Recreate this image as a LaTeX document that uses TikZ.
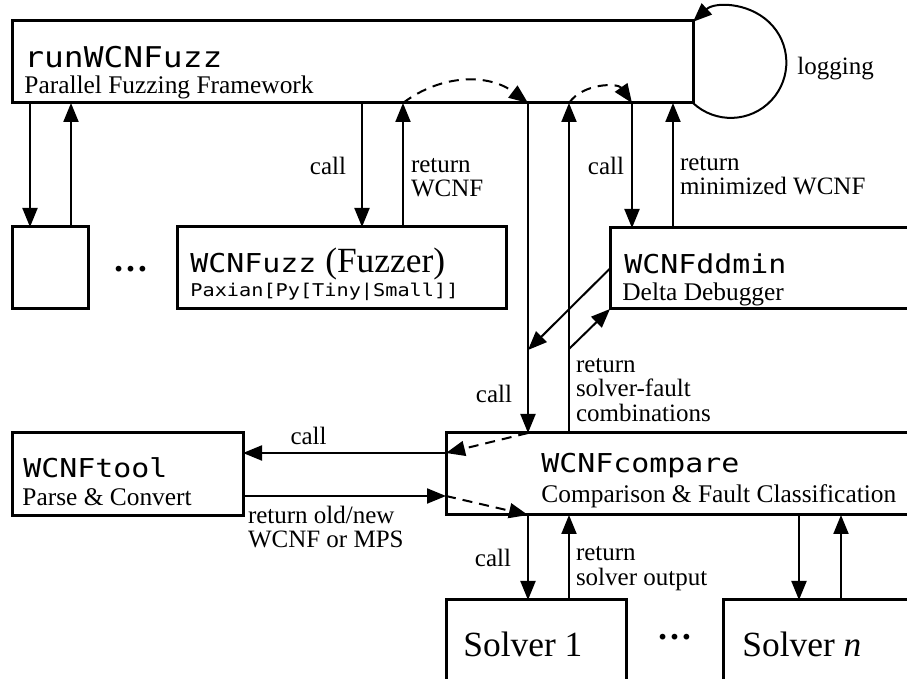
\documentclass[tikz,border=0pt]{standalone}
\usepackage{fontspec}
\setmainfont{Liberation Serif}
\newfontfamily\codefont[FakeStretch=1.15]{DejaVu Sans Mono}
\usetikzlibrary{arrows.meta,calc,positioning}

\tikzset{
  box/.style={draw, line width=1.5pt, inner sep=0pt, outer sep=0pt, anchor=north west},
  prog/.style={font=\codefont\fontsize{13}{15}\selectfont, inner sep=0pt, anchor=base west},
  desc/.style={font=\fontsize{12.7}{15}\selectfont, inner sep=0pt, anchor=base west},
  big/.style={font=\fontsize{17.7}{20}\selectfont, inner sep=0pt},
  lbl/.style={font=\fontsize{12.5}{12.2}\selectfont, inner sep=0pt, align=left},
  flow/.style={->, line width=1pt},
  handover/.style={flow, dash pattern=on 5pt off 3.5pt},
}

\begin{document}
\begin{tikzpicture}[x=0.5pt, y=-0.5pt, >={Triangle[length=9.5pt,width=7.5pt]}]
  \useasboundingbox (0,0) rectangle (907,679);
  \clip (0,0) rectangle (907,679);

  % components
  \node[box, minimum width=340.5pt, minimum height=41pt] (run) at (12,21) {};
  \node[box, minimum width=38pt, minimum height=41pt] (mini) at (12,227) {};
  \node[box, minimum width=164.5pt, minimum height=41pt] (fuzz) at (177,227) {};
  \node[box, minimum width=200pt, minimum height=40.5pt] (ddmin) at (610,228) {};
  \node[box, minimum width=115.5pt, minimum height=41.5pt] (tool) at (12,433) {};
  \node[box, minimum width=250pt, minimum height=41pt] (cmp) at (446,433) {};
  \node[box, minimum width=90pt, minimum height=60pt] (solver1) at (446,600) {};
  \node[box, minimum width=150pt, minimum height=60pt] (solvern) at (723,600) {};

  % names and descriptions
  \node[prog, font=\codefont\fontsize{14.3}{17}\selectfont] (run-name) at ([shift={(12,47)}]run.north west) {runWCNFuzz};
  \node[desc] (run-sub) at ([shift={(12,73)}]run.north west) {Parallel Fuzzing Framework};
  \node[big, anchor=base west] (fuzz-name) at ([shift={(13,46)}]fuzz.north west) {{\codefont\fontsize{13}{15}\selectfont WCNFuzz} (Fuzzer)};
  \node[prog, font=\codefont\fontsize{8.8}{10}\selectfont] (fuzz-sub) at ([shift={(13,70)}]fuzz.north west) {Paxian[Py[Tiny|Small]]};
  \node[prog] (dd-name) at ([shift={(14,46)}]ddmin.north west) {WCNFddmin};
  \node[desc] (dd-sub) at ([shift={(12,73)}]ddmin.north west) {Delta Debugger};
  \node[prog] (tool-name) at ([shift={(11,45)}]tool.north west) {WCNFtool};
  \node[desc] (tool-sub) at ([shift={(10,73)}]tool.north west) {Parse \& Convert};
  \node[prog] (cmp-name) at ([shift={(95,40)}]cmp.north west) {WCNFcompare};
  \node[desc] (cmp-sub) at ([shift={(95,70)}]cmp.north west) {Comparison \& Fault Classification};
  \node[big, anchor=base west] (s1-name) at ([shift={(17,57)}]solver1.north west) {Solver 1};
  \node[big, anchor=base west] (sn-name) at ([shift={(19,57)}]solvern.north west) {Solver \textit{n}};
  \node[big, anchor=base, font=\bfseries\fontsize{17.7}{20}\selectfont] (dots-fuzz) at ($(mini.east)!.5!(fuzz.west)+(-2,4)$) {\dots};
  \node[big, anchor=base, font=\bfseries\fontsize{17.7}{20}\selectfont] (dots-solver) at ($(solver1.north east)!.5!(solvern.north west)+(0,40)$) {\dots};

  % attachment points of the calls
  \coordinate (mini-c) at ([xshift=9pt]mini.north west);
  \coordinate (mini-r) at ([xshift=29.5pt]mini.north west);
  \coordinate (fuzz-c) at ([xshift=92.5pt]fuzz.north west);
  \coordinate (fuzz-r) at ([xshift=113pt]fuzz.north west);
  \coordinate (dd-c) at ([xshift=11pt]ddmin.north west);
  \coordinate (dd-r) at ([xshift=31.5pt]ddmin.north west);
  \coordinate (cmp-c) at ([xshift=41pt]cmp.north west);
  \coordinate (cmp-r) at ([xshift=61.5pt]cmp.north west);
  \coordinate (s1-c) at ([xshift=41pt]solver1.north west);
  \coordinate (s1-r) at ([xshift=61.5pt]solver1.north west);
  \coordinate (sn-c) at ([xshift=38pt]solvern.north west);
  \coordinate (sn-r) at ([xshift=59pt]solvern.north west);
  \coordinate (tool-in) at ([yshift=-10pt]tool.north east);
  \coordinate (tool-out) at ([yshift=10pt]tool.south east);
  \coordinate (dd-join) at ([yshift=41.5pt]cmp-c);
  \coordinate (dd-fork) at ([yshift=42pt]cmp-r);

  % runWCNFuzz <-> workers
  \draw[flow] (run.south -| mini-c) -- (mini-c);
  \draw[flow] (mini-r) -- (run.south -| mini-r);
  \draw[flow] (run.south -| fuzz-c) -- node[lbl, pos=.58, anchor=base east, xshift=-7.5pt] (fuzz-call) {call} (fuzz-c);
  \draw[flow] (fuzz-r) -- node[lbl, pos=.242, anchor=base west, xshift=3.5pt] (fuzz-ret) {return\\WCNF} (run.south -| fuzz-r);
  \draw[flow] (run.south -| dd-c) -- node[lbl, pos=.576, anchor=base east, xshift=-3.5pt] (dd-call) {call} (dd-c);
  \draw[flow] (dd-r) -- node[lbl, pos=.264, anchor=base west, xshift=3pt] (dd-ret) {return\\minimized WCNF} (run.south -| dd-r);
  \draw[flow] (run.south -| cmp-c) -- node[lbl, pos=.909, anchor=base east, xshift=-7.5pt] (cmp-call) {call} (cmp-c);
  \draw[flow] (cmp-r) -- node[lbl, pos=.036, anchor=base west, xshift=3pt] (cmp-ret) {return\\solver-fault\\combinations} (run.south -| cmp-r);
  \draw[flow] (run.south east) arc[start angle=-133, end angle=133, radius=27.75pt];
  \node[lbl, anchor=base west] (logging) at ([shift={(104,54)}]run.north east) {logging};

  % forwarding inside runWCNFuzz
  \draw[handover] (run.south -| fuzz-r) to[bend left=37] (run.south -| cmp-c);
  \draw[handover] (run.south -| cmp-r) to[bend left=55] (run.south -| dd-c);

  % WCNFddmin <-> WCNFcompare
  \draw[flow] (ddmin.west) -- (dd-join);
  \draw[flow] (dd-fork) -- (ddmin.south west);

  % WCNFcompare <-> WCNFtool
  \draw[handover] (cmp-c) -- (cmp.west |- tool-in);
  \draw[flow] (cmp.west |- tool-in) -- node[lbl, pos=.677, anchor=base, yshift=4pt] (tool-call) {call} (tool-in);
  \draw[flow] (tool-out) -- node[lbl, pos=0, anchor=base west, xshift=2pt, yshift=-26pt] (tool-ret) {return old/new\\WCNF or MPS} (cmp.west |- tool-out);
  \draw[handover] (cmp.west |- tool-out) -- (cmp.south -| s1-c);

  % WCNFcompare <-> solvers
  \draw[flow] (cmp.south -| s1-c) -- node[lbl, pos=.61, anchor=base east, xshift=-8pt] (s1-call) {call} (s1-c);
  \draw[flow] (s1-r) -- node[lbl, pos=.176, anchor=base west, xshift=3pt] (s1-ret) {return\\solver output} (cmp.south -| s1-r);
  \draw[flow] (cmp.south -| sn-c) -- (sn-c);
  \draw[flow] (sn-r) -- (cmp.south -| sn-r);
\end{tikzpicture}
\end{document}
